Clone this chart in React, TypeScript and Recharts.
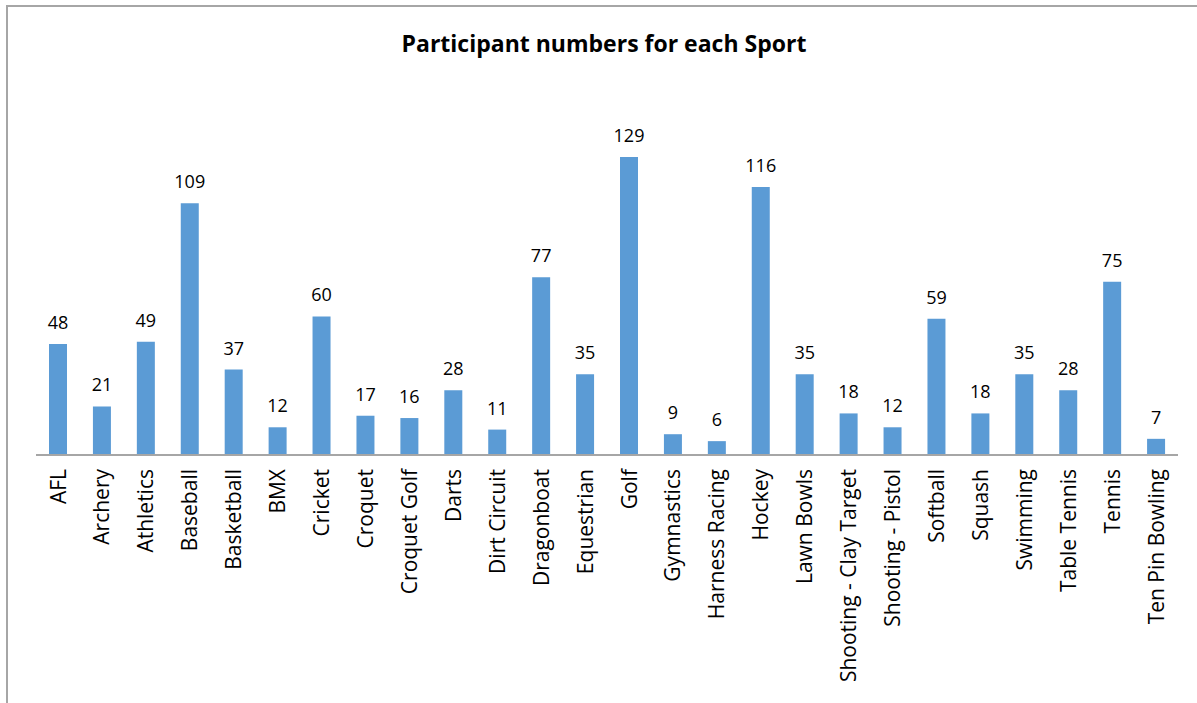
import { BarChart, Bar, XAxis, YAxis, LabelList } from "recharts";

const sports = [
  "AFL", "Archery", "Athletics", "Baseball", "Basketball", "BMX", "Cricket",
  "Croquet", "Croquet Golf", "Darts", "Dirt Circuit", "Dragonboat", "Equestrian",
  "Golf", "Gymnastics", "Harness Racing", "Hockey", "Lawn Bowls",
  "Shooting - Clay Target", "Shooting - Pistol", "Softball", "Squash",
  "Swimming", "Table Tennis", "Tennis", "Ten Pin Bowling",
];

const participants = [
  48, 21, 49, 109, 37, 12, 60, 17, 16, 28, 11, 77, 35, 129, 9, 6, 116, 35,
  18, 12, 59, 18, 35, 28, 75, 7,
];

const data = sports.map((nom, i) => ({ nom, valeur: participants[i] }));

const FONT = "'Open Sans', sans-serif";

const RotatedTick = (props: any) => {
  const { x, payload } = props;
  const y0 = 469;
  return (
    <text
      x={x}
      y={y0}
      dy="0.36em"
      textAnchor="end"
      transform={`rotate(-90, ${x}, ${y0})`}
      fill="#000"
      fontSize={21}
      fontFamily={FONT}
    >
      {payload.value}
    </text>
  );
};

export default function App() {
  return (
    <div style={{ position: "absolute", left: 0, top: 0, width: 1197, height: 703, overflow: "hidden", background: "#fff" }}>
      <div
        style={{
          position: "absolute",
          left: 6,
          top: 5,
          width: 1400,
          height: 900,
          borderLeft: "2px solid #a6a6a6",
          borderTop: "2px solid #a6a6a6",
        }}
      />
      <div
        style={{
          position: "absolute",
          left: 0,
          top: 27,
          width: 1208,
          textAlign: "center",
          fontFamily: FONT,
          fontWeight: 700,
          fontSize: 23,
          color: "#000",
        }}
      >
        Participant numbers for each Sport
      </div>
      <div style={{ position: "absolute", left: 0, top: 0 }}>
        <BarChart
          width={1197}
          height={703}
          data={data}
          margin={{ top: 131.6, right: 19, left: 36, bottom: 0 }}
        >
          <XAxis
            dataKey="nom"
            interval={0}
            height={248}
            tickLine={false}
            axisLine={{ stroke: "#a6a6a6", strokeWidth: 2 }}
            tick={<RotatedTick />}
          />
          <YAxis hide domain={[0, 140]} />
          <Bar dataKey="valeur" fill="#5B9BD5" barSize={18} isAnimationActive={false}>
            <LabelList
              dataKey="valeur"
              position="top"
              offset={15}
              fill="#000"
              fontSize={18}
              fontFamily={FONT}
            />
          </Bar>
        </BarChart>
      </div>
    </div>
  );
}
